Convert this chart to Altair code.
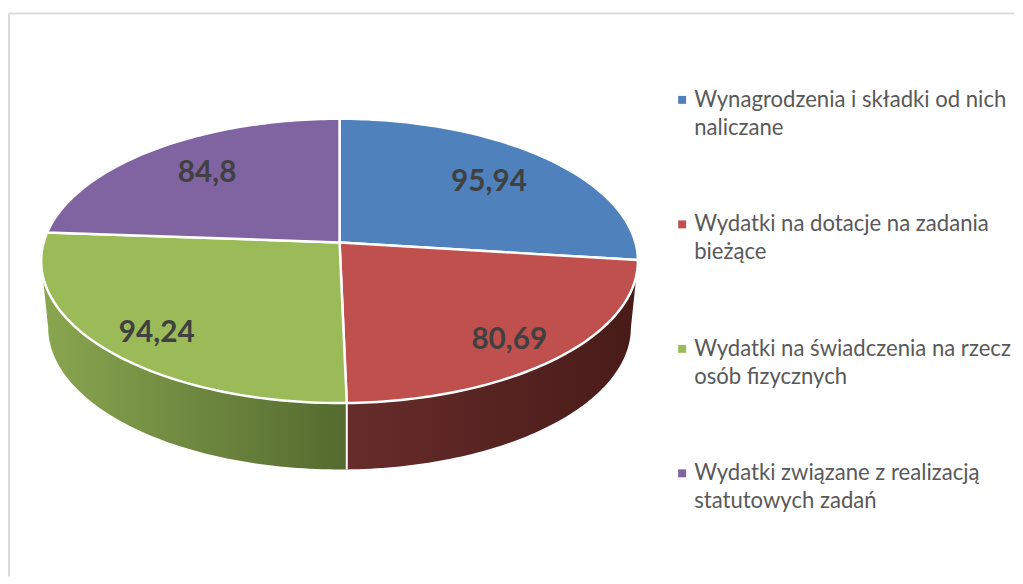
import numpy as np
import pandas as pd
import altair as alt

names = ["Wynagrodzenia i składki od nich|naliczane",
         "Wydatki na dotacje na zadania|bieżące",
         "Wydatki na świadczenia na rzecz|osób fizycznych",
         "Wydatki związane z realizacją|statutowych zadań"]
values = [95.94, 80.69, 94.24, 84.8]
labels = ["95,94", "80,69", "94,24", "84,8"]
colors = ["#4f81bd", "#c0504d", "#9bbb59", "#8064a2"]

W, H = 1014, 568
OX, OY = 6.5, 11        # chart origin inside the page
CX, CY, A, B, K = 340, 242, 298.5, 141, 0.1297   # top face perspective
CYB, AB = 309, 291.5    # bottom face perspective
LABEL_RADIUS = [0.72, 0.80, 0.80, 0.69]
LABEL_NUDGE = [(-1, 2), (-2, 8), (2, 8), (-2, -3)]


def project(theta, r=1.0, cy=CY, a=A):
    t = np.radians(theta)
    u, v = r * np.sin(t), r * np.cos(t)
    w = 1 + K * v
    return CX + a * u / w - OX, cy - B * v / w - OY


edges = np.concatenate([[0], np.cumsum(values)]) / np.sum(values) * 360

top_rows, label_rows = [], []
for s, name in enumerate(names):
    th = np.linspace(edges[s], edges[s + 1], 80)
    px, py = project(th)
    ax, ay = project(0.0, 0.0)
    xs = [ax, *px, ax]
    ys = [ay, *py, ay]
    top_rows += [dict(name=name, i=i, x=x, y=y) for i, (x, y) in enumerate(zip(xs, ys))]
    lx, ly = project((edges[s] + edges[s + 1]) / 2, LABEL_RADIUS[s])
    label_rows.append(dict(text=labels[s], x=lx + LABEL_NUDGE[s][0], y=ly + LABEL_NUDGE[s][1]))


def wall(s):
    lo, hi = max(edges[s], 97.5), min(edges[s + 1], 262.5)
    th = np.linspace(lo, hi, 80)
    tx, ty = project(th)
    bx, by = project(th[::-1], cy=CYB, a=AB)
    xs = [*tx, *bx, tx[0]]
    ys = [*ty, *by, ty[0]]
    return pd.DataFrame(dict(i=range(len(xs)), x=xs, y=ys))


xs = alt.Scale(domain=[0, W], range=[0, W], nice=False, zero=False)
ys = alt.Scale(domain=[0, H], range=[0, H], nice=False, zero=False)
X = alt.X("x:Q", scale=xs, axis=None)
Y = alt.Y("y:Q", scale=ys, axis=None)


def wall_layer(s, c0, c1):
    return alt.Chart(wall(s)).mark_line(
        strokeWidth=0,
        fill=alt.Gradient(gradient="linear", x1=0, x2=1, y1=0, y2=0,
                          stops=[alt.GradientStop(color=c0, offset=0),
                                 alt.GradientStop(color=c1, offset=1)]),
    ).encode(x=X, y=Y, order="i:Q")


red_wall = wall_layer(1, "#672c2c", "#481b18")
green_wall = wall_layer(2, "#8aa650", "#546a2f")

sx, sy0 = project(edges[2])
_, sy1 = project(edges[2], cy=CYB, a=AB)
divider = alt.Chart(pd.DataFrame(dict(x=[sx, sx], y=[sy0, sy1], i=[0, 1]))).mark_line(
    color="white", strokeWidth=2).encode(x=X, y=Y, order="i:Q")

top = alt.Chart(pd.DataFrame(top_rows)).mark_line(
    stroke="white", strokeWidth=2.5, strokeJoin="round"
).encode(
    x=X, y=Y, order="i:Q",
    fill=alt.Fill("name:N", sort=None, scale=alt.Scale(domain=names, range=colors),
                  legend=alt.Legend(
                      title=None, orient="none", legendX=668, legendY=76,
                      labelExpr="split(datum.label,'|')",
                      labelFont="Lato", labelFontSize=22.3, labelColor="#595959",
                      labelLimit=400, symbolType="square", symbolSize=64,
                      symbolStrokeWidth=0, rowPadding=74.6, labelOffset=1)),
)

text = alt.Chart(pd.DataFrame(label_rows)).mark_text(
    font="Lato", fontWeight="bold", fontSize=30, color="#404040", baseline="middle"
).encode(x=X, y=Y, text="text:N")

frame_top = alt.Chart(pd.DataFrame(dict(a=[0]))).mark_rule(color="#dcdcdc", strokeWidth=2).encode(
    x=alt.value(0), x2=alt.value(W), y=alt.value(0))
frame_left = alt.Chart(pd.DataFrame(dict(a=[0]))).mark_rule(color="#dcdcdc", strokeWidth=2).encode(
    x=alt.value(0), y=alt.value(0), y2=alt.value(H))

chart = alt.layer(frame_top, frame_left, red_wall, green_wall, divider, top, text).properties(
    width=W, height=H, padding={"left": 0, "top": 2, "right": 0, "bottom": 0},
    background="white",
)
chart.config = alt.Config(view=alt.ViewConfig(stroke="transparent"),
                          style={"guide-label": {"lineHeight": 28}})

chart.save("out.html", embed_options={"renderer": "svg", "actions": False})
